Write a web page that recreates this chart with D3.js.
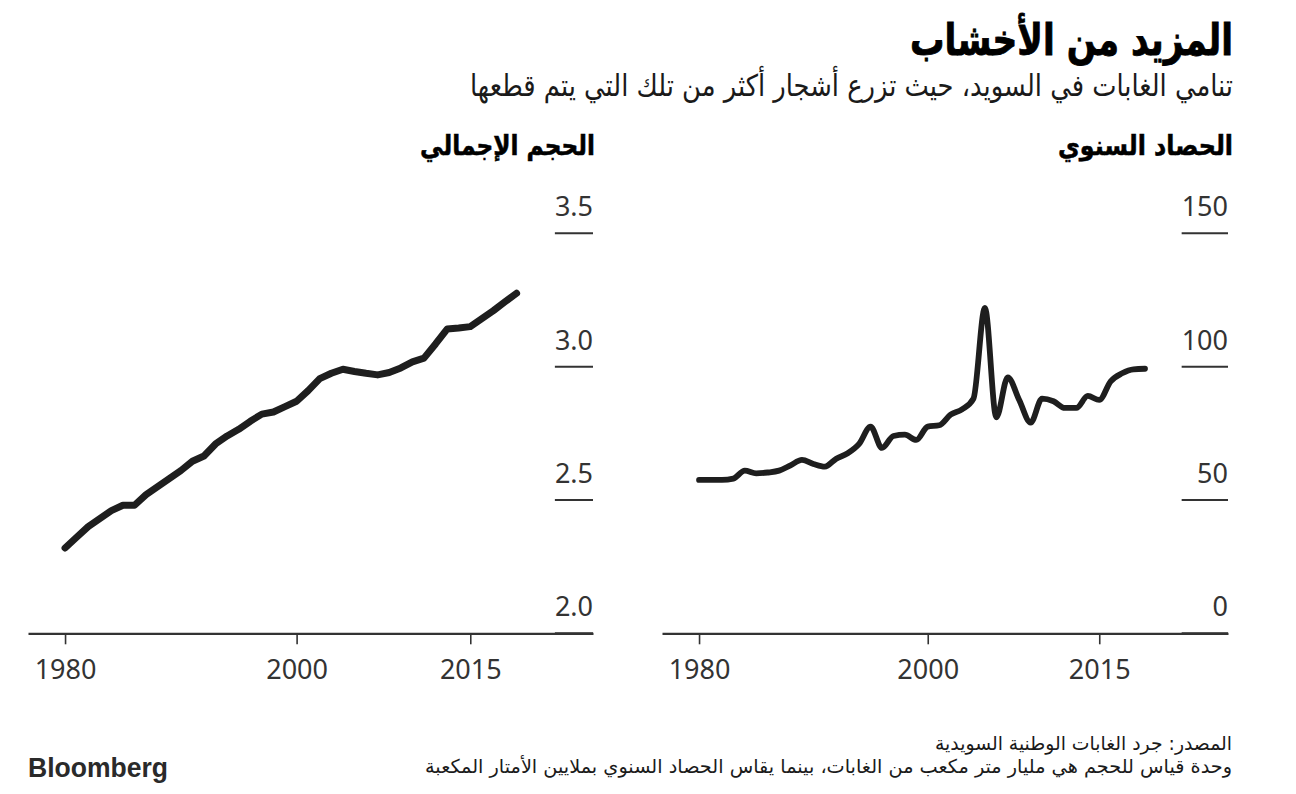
<!DOCTYPE html>
<html><head><meta charset="utf-8">
<script src="https://cdn.jsdelivr.net/npm/d3@7"></script>
<style>body{margin:0;background:#fff}svg{display:block}</style>
</head><body><svg id="c" width="1296" height="794"></svg>
<script>
// ---- data ----
const years = d3.range(1980, 2020);
const volume = [2.32,2.36,2.40,2.43,2.46,2.48,2.48,2.52,2.55,2.58,
  2.61,2.645,2.665,2.71,2.74,2.765,2.795,2.822,2.83,2.85,
  2.87,2.91,2.955,2.975,2.99,2.982,2.975,2.969,2.978,2.995,
  3.018,3.032,3.085,3.141,3.145,3.15,3.18,3.21,3.243,3.275];
const harvest = [57.5,57.5,57.5,58,61,60,60.3,61,63,65,
  63.5,62.5,65.5,67.5,71,77.5,69.5,74,74.5,72.5,
  77.5,78,82,84,88,122,81,96,87.5,79,
  88,87,84.5,84.5,89,87.5,94.5,97.5,99,99.2];
const xTicks = [1980, 2000, 2015];
const volumeTicks = [2.0, 2.5, 3.0, 3.5];
const volumeLabels = ["2.0", "2.5", "3.0", "3.5"];
const harvestTicks = [0, 50, 100, 150];
const harvestLabels = ["0", "50", "100", "150"];
const titleText = "المزيد من الأخشاب";
const subtitleText = "تنامي الغابات في السويد، حيث تزرع أشجار أكثر من تلك التي يتم قطعها";
const leftHeading = "الحجم الإجمالي";
const rightHeading = "الحصاد السنوي";
const sourceText = "المصدر: جرد الغابات الوطنية السويدية";
const noteText = "وحدة قياس للحجم هي مليار متر مكعب من الغابات، بينما يقاس الحصاد السنوي بملايين الأمتار المكعبة";

// ---- drawing ----
const svg = d3.select("#c");
const AR = "'DejaVu Sans Condensed','DejaVu Sans',sans-serif";
const NUM = "'Noto Sans','Open Sans',sans-serif";
const ink = "#333";

function arText(txt, x, y, size, weight, width, color) {
  const t = svg.append("text").attr("x", x).attr("y", y)
    .attr("text-anchor", "end")
    .style("font-family", AR).style("font-size", size + "px")
    .style("font-weight", weight).attr("fill", color).text(txt);
  if (width) t.attr("textLength", width).attr("lengthAdjust", "spacingAndGlyphs");
  return t;
}

arText(titleText, 1233, 55, 44, 700, 323, "#000").attr("stroke", "#000").attr("stroke-width", 0.8);
arText(subtitleText, 1233, 96, 30, 400, 763, "#1a1a1a");
arText(leftHeading, 595, 155, 27, 700, 175, "#000").attr("stroke", "#000").attr("stroke-width", 0.5);
arText(rightHeading, 1233, 155, 27, 700, 175, "#000").attr("stroke", "#000").attr("stroke-width", 0.5);
arText(sourceText, 1232, 750, 19, 400, 297, "#1a1a1a");
arText(noteText, 1232, 773, 19, 400, 807, "#1a1a1a");

svg.append("text").attr("x", 28).attr("y", 777)
  .style("font-family", "'Liberation Sans',Arial,sans-serif")
  .style("font-size", "28px").style("font-weight", 700)
  .attr("fill", "#2a2a2a").attr("textLength", 140).attr("lengthAdjust", "spacingAndGlyphs")
  .text("Bloomberg");

function panel(cfg) {
  const x = d3.scaleLinear().domain(cfg.xDomain).range([cfg.x0, cfg.x1]);
  const y = d3.scaleLinear().domain(cfg.yDomain).range([633.3, 233.3]);
  const g = svg.append("g");

  // y labels with underline rules
  const lbl = g.append("g").selectAll("text").data(cfg.yTicks).join("text")
    .attr("x", cfg.x1).attr("y", d => y(d) - 17)
    .attr("text-anchor", "end")
    .style("font-family", NUM).style("font-size", "27px")
    .attr("fill", ink).text((d, i) => cfg.yLabels[i]);
  let maxW = 0;
  lbl.each(function () { maxW = Math.max(maxW, this.getComputedTextLength()); });
  g.append("g").selectAll("line").data(cfg.yTicks).join("line")
    .attr("x1", cfg.x1 - maxW).attr("x2", cfg.x1)
    .attr("y1", d => y(d)).attr("y2", d => y(d))
    .attr("stroke", ink).attr("stroke-width", 2);

  // x axis
  const ax = g.append("g").attr("transform", "translate(0,633.3)")
    .call(d3.axisBottom(x).tickValues(xTicks).tickFormat(d3.format("d"))
      .tickSizeInner(11).tickSizeOuter(0).tickPadding(10));
  ax.select(".domain").attr("stroke", ink).attr("stroke-width", 2.2);
  ax.selectAll(".tick line").attr("stroke", ink).attr("stroke-width", 1.6);
  ax.selectAll(".tick text").style("font-family", NUM).style("font-size", "27px")
    .attr("fill", ink).attr("dy", "0.9em");

  // line
  const line = d3.line().x((d, i) => x(years[i])).y(d => y(d)).curve(cfg.curve);
  g.append("path").datum(cfg.values).attr("d", line)
    .attr("fill", "none").attr("stroke", "#1e1e1e").attr("stroke-width", cfg.sw)
    .attr("stroke-linejoin", "round").attr("stroke-linecap", "round");
}

panel({ xDomain: [1976.8, 2025.6], x0: 28, x1: 593, yDomain: [2, 3.5],
  yTicks: volumeTicks, yLabels: volumeLabels, values: volume, curve: d3.curveLinear, sw: 7 });
panel({ xDomain: [1976.76, 2026.26], x0: 662, x1: 1228, yDomain: [0, 150],
  yTicks: harvestTicks, yLabels: harvestLabels, values: harvest, curve: d3.curveMonotoneX, sw: 5.8 });
</script>
</body></html>
